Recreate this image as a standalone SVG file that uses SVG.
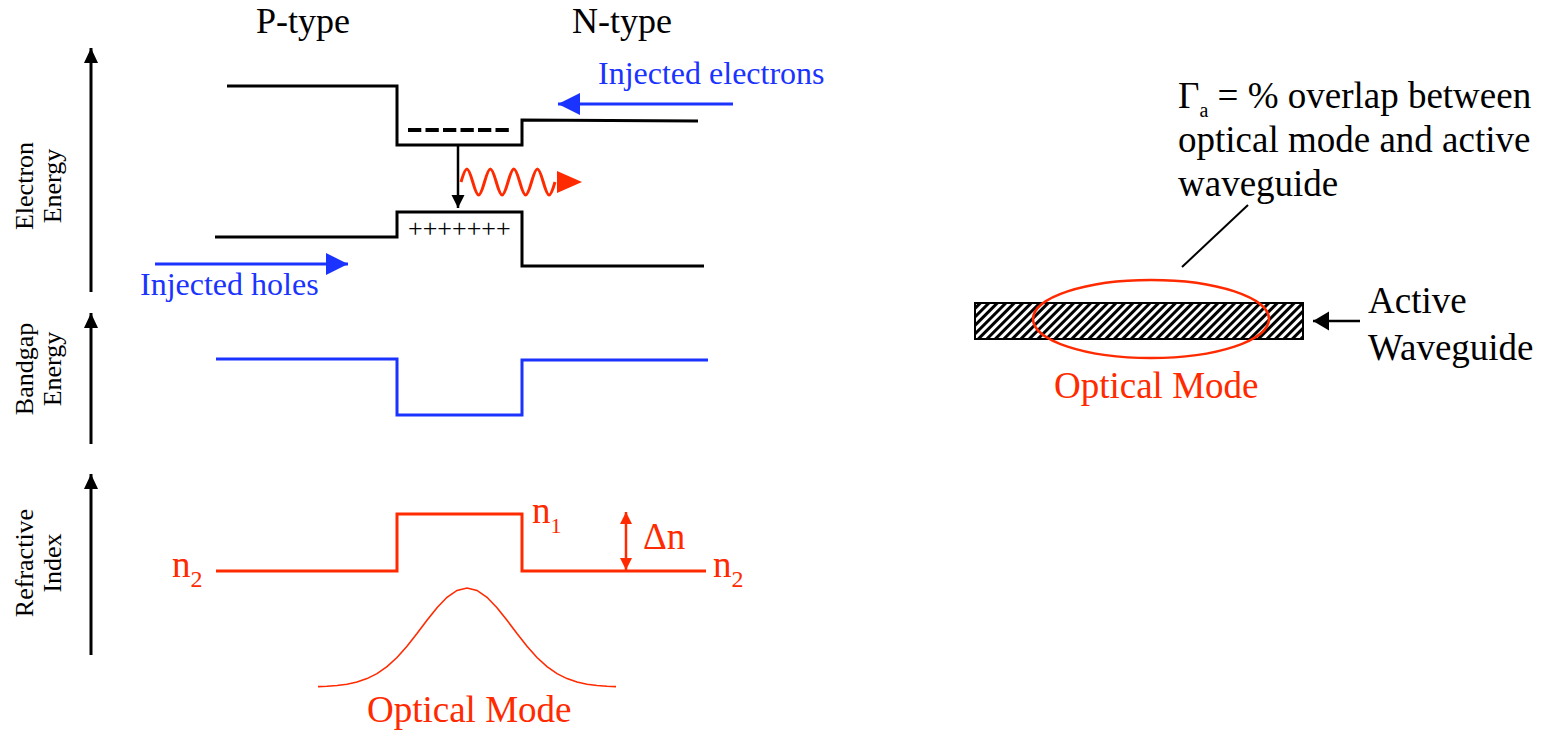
<svg xmlns="http://www.w3.org/2000/svg" width="1547" height="731" viewBox="0 0 1547 731">
<defs>
<style>
text{font-family:"Liberation Serif","Times New Roman",serif}
.k{stroke:#000;stroke-width:3;fill:none}
.bl{stroke:#1a33ff;stroke-width:3;fill:none}
.rd{stroke:#ff2a00;stroke-width:3;fill:none}
.ax{font-size:26px;fill:#000}
.big{font-size:36px;fill:#000}
.bg{font-size:37px;fill:#000}
.red{fill:#ff2a00}
.blu{fill:#1a33ff}
</style>
<marker id="axh" markerUnits="userSpaceOnUse" markerWidth="16" markerHeight="14" refX="15" refY="7" orient="auto"><path d="M0,0L15,7L0,14z" fill="#000"/></marker>
<marker id="bh" markerUnits="userSpaceOnUse" markerWidth="24" markerHeight="24" refX="22" refY="11" orient="auto"><path d="M0,0L22,11L0,22z" fill="#1a33ff"/></marker>
<marker id="kh" markerUnits="userSpaceOnUse" markerWidth="14" markerHeight="14" refX="13" refY="6.5" orient="auto"><path d="M0,0L13,6.5L0,13z" fill="#000"/></marker>
<marker id="kh2" markerUnits="userSpaceOnUse" markerWidth="18" markerHeight="20" refX="16" refY="9.5" orient="auto"><path d="M0,0L16,9.5L0,19z" fill="#000"/></marker>
<marker id="rh" markerUnits="userSpaceOnUse" markerWidth="14" markerHeight="14" refX="12" refY="6" orient="auto-start-reverse"><path d="M0,0L12,6L0,12z" fill="#ff2a00"/></marker>
<pattern id="hatch" patternUnits="userSpaceOnUse" width="6" height="6" patternTransform="rotate(45)"><rect width="6" height="6" fill="#fff"/><rect width="3" height="6" fill="#000"/></pattern>
</defs>

<g id="axes">
<line class="k" x1="91" y1="292" x2="91" y2="48" marker-end="url(#axh)"/>
<line class="k" x1="91" y1="444" x2="91" y2="313" marker-end="url(#axh)"/>
<line class="k" x1="91" y1="655" x2="91" y2="474" marker-end="url(#axh)"/>
<text class="ax" text-anchor="middle" transform="translate(33,186) rotate(-90)">Electron</text>
<text class="ax" text-anchor="middle" transform="translate(61,186) rotate(-90)">Energy</text>
<text class="ax" text-anchor="middle" transform="translate(33,369) rotate(-90)">Bandgap</text>
<text class="ax" text-anchor="middle" transform="translate(61,369) rotate(-90)">Energy</text>
<text class="ax" text-anchor="middle" transform="translate(33,563) rotate(-90)">Refractive</text>
<text class="ax" text-anchor="middle" transform="translate(61,563) rotate(-90)">Index</text>
</g>

<g id="titles">
<text class="big" x="256" y="33">P-type</text>
<text class="big" x="572" y="33">N-type</text>
</g>

<g id="electron-energy">
<polyline class="k" points="227,86 397,86 397,145 522,145 522,120 698,121"/>
<polyline class="k" points="215,237 397,237 397,212 522,212 522,266 704,266"/>
<line x1="408" y1="130" x2="510" y2="130" stroke="#000" stroke-width="4" stroke-dasharray="13.3 4.2"/>
<text x="408" y="237" font-size="26" fill="#000">+++++++</text>
</g>

<g id="injected-electrons">
<text class="blu" x="598" y="84" font-size="32">Injected electrons</text>
</g>
<g id="injected-holes">
<text class="blu" x="140" y="295" font-size="32">Injected holes</text>
</g>

<g id="photon">
<path class="rd" stroke-width="2.5" d="M461,182 C465.99,164.67 467.76,164.67 472.75,182 S479.51,199.33 484.5,182 S491.26,164.67 496.25,182 S503.01,199.33 508,182 S514.76,164.67 519.75,182 S526.51,199.33 531.5,182 S538.26,164.67 543.25,182 S550.01,199.33 555,182"/>
<polygon points="557,171 582,182 557,193" fill="#ff2a00"/>
</g>

<g id="bandgap">
<polyline class="bl" points="216,359 397,359 397,415 522,415 522,360 708,360"/>
</g>

<g id="refractive-index">
<polyline class="rd" points="216,571 397,571 397,514 522,514 522,571 706,571"/>
<text class="red" x="172" y="577" font-size="37">n<tspan font-size="24" dy="10">2</tspan></text>
<text class="red" x="713" y="577" font-size="37">n<tspan font-size="24" dy="10">2</tspan></text>
<text class="red" x="532" y="523" font-size="37">n<tspan font-size="22" dy="10">1</tspan></text>
<text class="red" x="643" y="549" font-size="37">Δn</text>
</g>

<g id="optical-mode-left">
<polyline fill="none" stroke="#ff2a00" stroke-width="1.6" points="318,686.6 327,686.2 337,685.5 347,684.2 357,682 367,678.6 377,673.6 387,666.6 397,657.5 407,646.3 417,633.6 427,620.3 437,607.7 447,597.3 457,590.4 467,588 477,590.4 487,597.3 497,607.7 507,620.3 517,633.6 527,646.3 537,657.5 547,666.6 557,673.6 567,678.6 577,682 587,684.2 597,685.5 607,686.2 616,686.6"/>
<text class="red" x="367" y="722" font-size="37">Optical Mode</text>
</g>

<g id="waveguide">
<rect x="975" y="303" width="328" height="36" fill="url(#hatch)" stroke="#000" stroke-width="2"/>
</g>
<g id="optical-mode-right">
<ellipse cx="1151" cy="319" rx="118" ry="39" fill="none" stroke="#ff2a00" stroke-width="2.5"/>
<text class="red" x="1054" y="398" font-size="37">Optical Mode</text>
</g>
<g id="active-waveguide-label">
<text class="bg" x="1368" y="313">Active</text>
<text class="bg" x="1368" y="360">Waveguide</text>
</g>
<g id="overlap-label">
<text class="bg" x="1178" y="108">Γ<tspan style="font-size:20px" dy="9">a</tspan><tspan dy="-9"> = % overlap between</tspan></text>
<text class="bg" x="1178" y="152">optical mode and active</text>
<text class="bg" x="1178" y="196">waveguide</text>
</g>

<g id="connectors">
<line x1="733" y1="104" x2="558" y2="104" stroke="#1a33ff" stroke-width="3" marker-end="url(#bh)"/>
<line x1="155" y1="264" x2="348" y2="264" stroke="#1a33ff" stroke-width="3" marker-end="url(#bh)"/>
<line x1="458" y1="146" x2="458" y2="208" stroke="#000" stroke-width="2.5" marker-end="url(#kh)"/>
<line x1="626" y1="512" x2="626" y2="570" stroke="#ff2a00" stroke-width="2.5" marker-start="url(#rh)" marker-end="url(#rh)"/>
<line x1="1360" y1="321" x2="1313" y2="321" stroke="#000" stroke-width="2.5" marker-end="url(#kh2)"/>
<line x1="1248" y1="205" x2="1182" y2="267" stroke="#000" stroke-width="2"/>
</g>
</svg>
